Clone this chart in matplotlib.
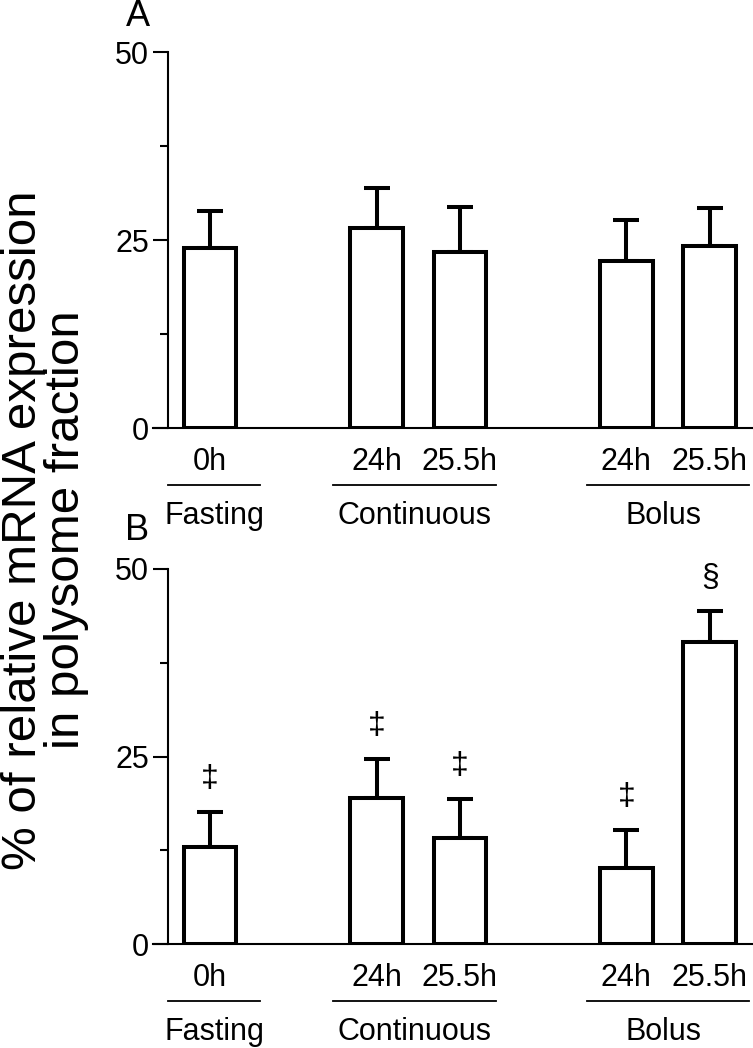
import numpy as np
import matplotlib
matplotlib.use('Agg')
import matplotlib.pyplot as plt
from matplotlib.transforms import blended_transform_factory

plt.rcParams['font.family'] = ['Liberation Sans', 'DejaVu Sans']

# data
positions = [0, 2, 3, 5, 6]
time_labels = ['0h', '24h', '25.5h', '24h', '25.5h']
groups = ['Fasting', 'Continuous', 'Bolus']
group_centers = [0.05, 2.45, 5.45]
group_spans = [(-0.50, 0.60), (1.48, 3.43), (4.53, 6.47)]

mean_a = [23.9, 26.6, 23.4, 22.2, 24.2]
sem_a = [5.0, 5.3, 6.0, 5.5, 5.1]
mean_b = [12.9, 19.5, 14.2, 10.1, 40.3]
sem_b = [4.7, 5.2, 5.1, 5.1, 4.1]
marks_b = ['\u2021', '\u2021', '\u2021', '\u2021', '\u00a7']

W, H = 753, 1048
fig = plt.figure(figsize=(W / 100, H / 100), dpi=100)

# axes boxes in pixels: left, right, bottom(y of zero), top(y of 50)
ax_a = fig.add_axes([153 / W, 1 - 428 / H, 600 / W, 376 / H])
ax_b = fig.add_axes([153 / W, 1 - 944 / H, 600 / W, 375 / H])


def draw_panel(ax, means, sems, marks=None):
    ax.bar(positions, means, width=0.63, color='white', edgecolor='black',
           linewidth=2.9, zorder=3)
    ax.errorbar(positions, means, yerr=[np.zeros(len(sems)), sems], fmt='none',
                ecolor='black', elinewidth=2.9, capsize=9.7, capthick=2.9, zorder=2)
    ax.set_xlim(-0.684, 6.52)
    ax.set_ylim(0, 50)

    for s in ['top', 'right']:
        ax.spines[s].set_visible(False)
    ax.spines['left'].set_position(('data', -0.504))
    ax.spines['left'].set_linewidth(1.5)
    ax.spines['bottom'].set_linewidth(1.5)
    ax.set_yticks([0, 25, 50])
    ax.set_yticks([12.5, 37.5], minor=True)
    ax.tick_params(axis='y', which='major', length=10.8, width=1.5,
                   labelsize=22, pad=3)
    ax.tick_params(axis='y', which='minor', length=5.8, width=1.5)
    ax.set_xticks([])

    # time labels under each bar
    for x, lab in zip(positions, time_labels):
        ax.annotate(lab, xy=(x, 0), xytext=(0, -34), textcoords='offset pixels',
                    ha='center', va='center', fontsize=22, annotation_clip=False)

    # group underlines and names
    trans = blended_transform_factory(ax.transData, ax.transAxes)
    h_px = ax.get_position().height * H
    for (x0, x1), xc, g in zip(group_spans, group_centers, groups):
        yl = -57 / h_px
        ax.plot([x0, x1], [yl, yl], color='black', lw=1.3, transform=trans,
                clip_on=False)
        ax.text(xc, -88 / h_px, g, transform=trans, ha='center', va='center',
                fontsize=22)

    if marks is not None:
        for x, m, s, mk in zip(positions, means, sems, marks):
            ax.annotate(mk, xy=(x, m + s), xytext=(0, 33), textcoords='offset pixels',
                        ha='center', va='center', fontsize=23, annotation_clip=False)


draw_panel(ax_a, mean_a, sem_a)
draw_panel(ax_b, mean_b, sem_b, marks_b)

fig.text(138 / W, 1 - 17 / H, 'A', ha='center', va='center', fontsize=26)
fig.text(137 / W, 1 - 531 / H, 'B', ha='center', va='center', fontsize=26)

fig.text(45 / W, 1 - 530 / H, '% of relative mRNA expression\nin polysome fraction',
         rotation=90, ha='center', va='center', fontsize=35.5, linespacing=0.95,
         multialignment='center')

fig.savefig('out.png', dpi=100)
